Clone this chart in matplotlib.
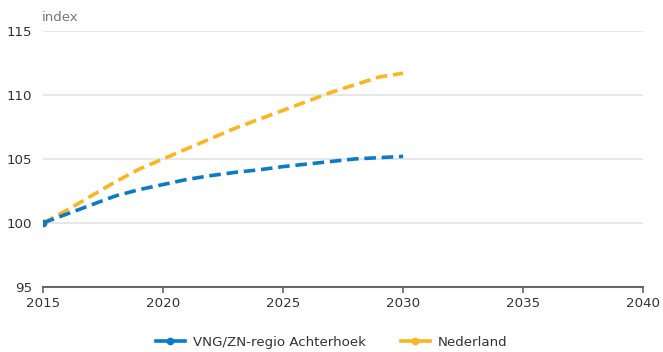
import matplotlib
matplotlib.use("Agg")
import matplotlib.pyplot as plt
from matplotlib.lines import Line2D

years = list(range(2015, 2031))
achterhoek = [100.0, 100.7, 101.4, 102.1, 102.6, 103.0, 103.4, 103.7, 103.95,
              104.15, 104.4, 104.6, 104.8, 105.0, 105.1, 105.2]
nederland = [100.0, 101.0, 102.1, 103.2, 104.2, 105.0, 105.8, 106.6, 107.4,
             108.1, 108.8, 109.5, 110.2, 110.8, 111.4, 111.7]
series_names = ["VNG/ZN-regio Achterhoek", "Nederland"]
x_ticks = [2015, 2020, 2025, 2030, 2035, 2040]
y_ticks = [95, 100, 105, 110, 115]

blue = "#0b7bc9"
orange = "#fbb51f"
text_col = "#333333"

fig = plt.figure(figsize=(6.63, 3.52), dpi=100)
ax = fig.add_axes([0.065, 0.185, 0.905, 0.727])

ax.set_xlim(2015, 2040)
ax.set_ylim(95, 115)

for y in y_ticks[1:]:
    ax.axhline(y, color="#e3e3e3", lw=1.2, zorder=0)

ax.plot(years, nederland, color=orange, lw=2.6, ls=(0, (3.2, 1.6)),
        marker="o", markersize=4.5, markevery=[0], zorder=3)
ax.plot(years, achterhoek, color=blue, lw=2.6, ls=(0, (3.2, 1.6)),
        marker="o", markersize=4.5, markevery=[0], zorder=4)

for side in ["top", "right", "left"]:
    ax.spines[side].set_visible(False)
ax.spines["bottom"].set_color("#666666")
ax.spines["bottom"].set_linewidth(1.5)

ax.set_xticks(x_ticks)
ax.set_yticks(y_ticks)
ax.tick_params(axis="x", length=4, width=1.2, color="#666666",
               labelsize=9.6, labelcolor=text_col, pad=3)
ax.tick_params(axis="y", length=0, labelsize=9.6, labelcolor=text_col, pad=8)

fig.text(0.063, 0.94, "index", fontsize=9.6, color="#777777", ha="left", va="baseline")

handles = [Line2D([0], [0], color=blue, lw=2.6, marker="o", markersize=4.5),
           Line2D([0], [0], color=orange, lw=2.6, marker="o", markersize=4.5)]
fig.legend(handles, series_names, loc="center", bbox_to_anchor=(0.5, 0.028),
           ncol=2, frameon=False, fontsize=9.6, labelcolor=text_col,
           handlelength=2.2, handletextpad=0.6, columnspacing=2.6,
           borderpad=0.1)

fig.savefig("out.png", dpi=100)
